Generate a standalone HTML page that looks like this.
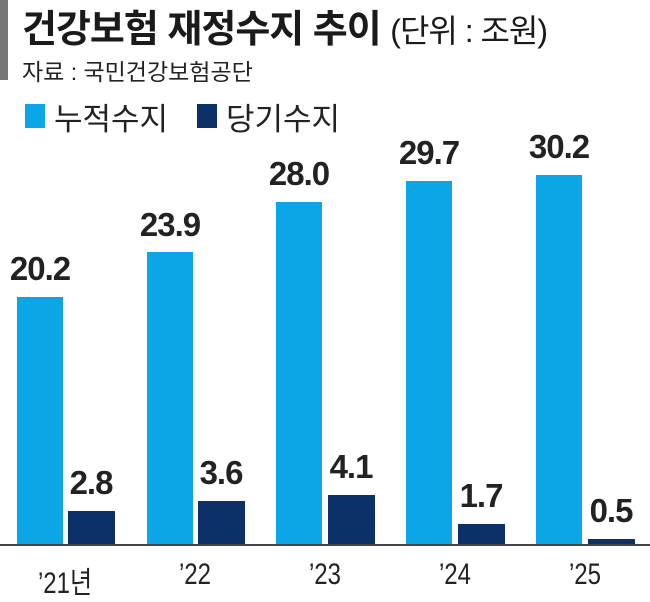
<!DOCTYPE html><html><head><meta charset="utf-8"><style>
body{margin:0;width:650px;height:593px;background:#fff;position:relative;overflow:hidden;font-family:"Liberation Sans","Noto Sans CJK KR",sans-serif;}
.a{position:absolute}
.lb{background:#0aa6e6}.db{background:#0c3169}
.v{position:absolute;font-weight:bold;font-size:33px;color:#222;width:80px;text-align:center;letter-spacing:-1px}
.x{position:absolute;font-size:30px;color:#222;width:100px;text-align:center;top:558px;transform:scaleX(0.8)}
</style></head><body>
<div class="a" style="left:0;top:0;width:8px;height:80px;background:#777"></div>
<div class="a" style="left:22px;top:-2px;font-size:38px;font-weight:bold;color:#1a1a1a;letter-spacing:-1px;white-space:nowrap">건강보험 재정수지 추이 <span style="font-weight:normal;font-size:32px">(단위 : 조원)</span></div>
<div class="a" style="left:22px;top:53px;font-size:23px;color:#222;white-space:nowrap">자료 : 국민건강보험공단</div>
<div class="a lb" style="left:25px;top:104px;width:20px;height:24px"></div>
<div class="a" style="left:54px;top:94px;font-size:31px;color:#222;white-space:nowrap">누적수지</div>
<div class="a db" style="left:197px;top:104px;width:20px;height:24px"></div>
<div class="a" style="left:226px;top:94px;font-size:31px;color:#222;white-space:nowrap">당기수지</div>

<div class="a lb" style="left:17px;top:297px;width:46px;height:248px"></div>
<div class="a lb" style="left:147px;top:252px;width:46px;height:293px"></div>
<div class="a lb" style="left:276px;top:202px;width:46px;height:343px"></div>
<div class="a lb" style="left:406px;top:181px;width:46px;height:364px"></div>
<div class="a lb" style="left:536px;top:175px;width:46px;height:370px"></div>
<div class="a db" style="left:68px;top:511px;width:47px;height:34px"></div>
<div class="a db" style="left:198px;top:501px;width:47px;height:44px"></div>
<div class="a db" style="left:328px;top:495px;width:47px;height:50px"></div>
<div class="a db" style="left:458px;top:524px;width:47px;height:21px"></div>
<div class="a db" style="left:588px;top:539px;width:47px;height:6px"></div>
<div class="a" style="left:0;top:544px;width:650px;height:2px;background:#444"></div>

<div class="v" style="left:0px;top:250px">20.2</div>
<div class="v" style="left:130px;top:206px">23.9</div>
<div class="v" style="left:259px;top:155px">28.0</div>
<div class="v" style="left:389px;top:134px">29.7</div>
<div class="v" style="left:519px;top:128px">30.2</div>
<div class="v" style="left:51px;top:464px">2.8</div>
<div class="v" style="left:181px;top:454px">3.6</div>
<div class="v" style="left:311px;top:448px">4.1</div>
<div class="v" style="left:441px;top:477px">1.7</div>
<div class="v" style="left:571px;top:492px">0.5</div>

<div class="x" style="left:15px">’21년</div>
<div class="x" style="left:145px">’22</div>
<div class="x" style="left:275px">’23</div>
<div class="x" style="left:405px">’24</div>
<div class="x" style="left:535px">’25</div>
</body></html>
